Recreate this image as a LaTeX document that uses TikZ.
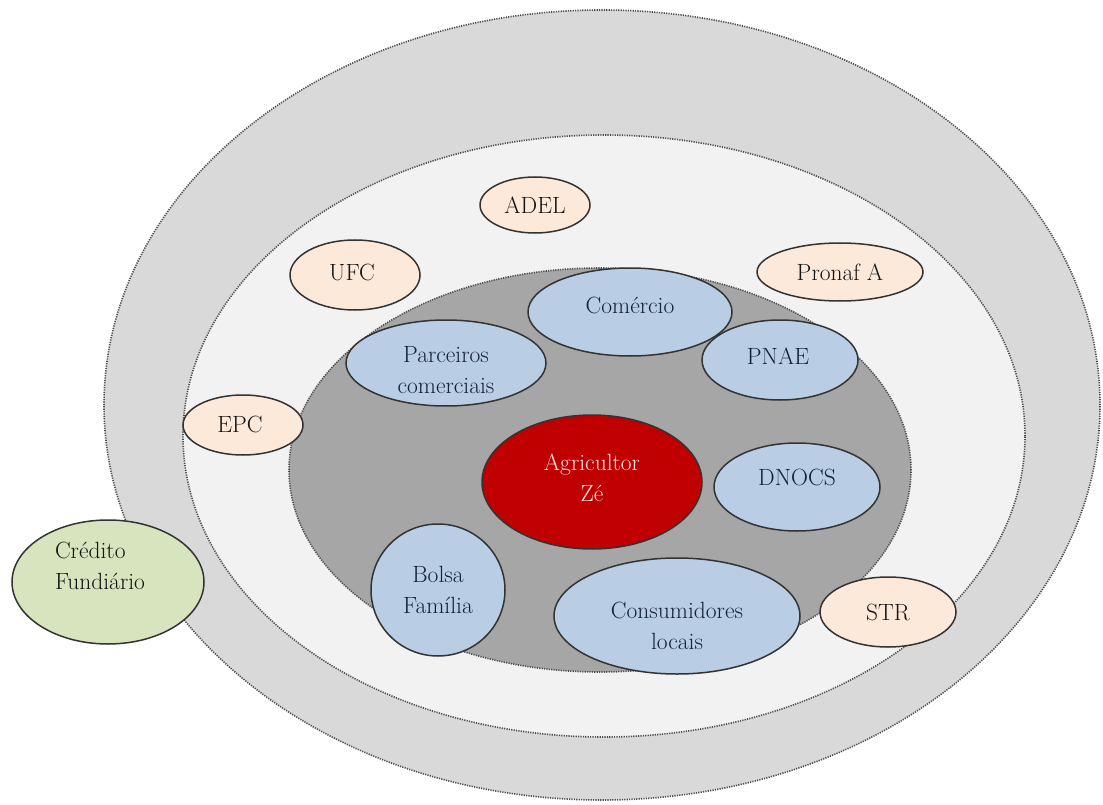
\documentclass[tikz,border=0pt]{standalone}
\usetikzlibrary{shapes.geometric}
\definecolor{ringout}{HTML}{D9D9D9}
\definecolor{ringmid}{HTML}{F2F2F2}
\definecolor{ringin}{HTML}{A6A6A6}
\definecolor{bluefill}{HTML}{B9CDE5}
\definecolor{peachfill}{HTML}{FDE9D9}
\definecolor{greenfill}{HTML}{D7E4BD}
\definecolor{redfill}{HTML}{C00000}
\definecolor{edgecol}{HTML}{333333}
\definecolor{txtcol}{HTML}{141414}
\definecolor{bluetxt}{HTML}{14213A}
\begin{document}
\begin{tikzpicture}[x=1pt,y=-1pt,
  ring/.style={ellipse,draw=black!70,line width=1.6pt,dash pattern=on 1.2pt off 1.2pt,inner sep=0pt},
  bub/.style={ellipse,draw=edgecol,line width=1.5pt,inner sep=0pt},
  bluebub/.style={bub,fill=bluefill},
  peachbub/.style={bub,fill=peachfill},
  greenbub/.style={bub,fill=greenfill},
  redbub/.style={bub,fill=redfill},
  txt/.style={text=txtcol,align=center,font=\rmfamily\fontsize{23.5}{31}\selectfont,inner sep=0pt},
  btxt/.style={txt,text=bluetxt},
  wtxt/.style={txt,text=white!90!red}
]
\useasboundingbox (0,0) rectangle (1103,805);
% rings
\node[ring,fill=ringout,minimum width=996pt,minimum height=790pt] (outer) at (602,405) {};
\node[ring,fill=ringmid,minimum width=842pt,minimum height=602pt] (middle) at (604,436) {};
\node[ring,fill=ringin,minimum width=622pt,minimum height=404pt] (inner) at (600,470) {};
% peach bubbles
\node[peachbub,minimum width=110pt,minimum height=56pt] (adel) at (535,205) {};
\node[txt] (adelt) at (adel) {ADEL};
\node[peachbub,minimum width=130pt,minimum height=70pt] (ufc) at (355,275) {};
\node[txt] (ufct) at ([shift={(-3,-3)}]ufc.center) {UFC};
\node[peachbub,minimum width=166pt,minimum height=58pt] (pronaf) at (840,272) {};
\node[txt] (pronaft) at (pronaf) {Pronaf A};
\node[peachbub,minimum width=120pt,minimum height=60pt] (epc) at (243,425) {};
\node[txt] (epct) at ([shift={(-3,-1)}]epc.center) {EPC};
\node[peachbub,minimum width=136pt,minimum height=70pt] (str) at (888,612) {};
\node[txt] (strt) at (str) {STR};
\node[greenbub,minimum width=192pt,minimum height=124pt] (cred) at (108,582) {};
\node[txt,align=left] (credt) at ([shift={(-8,-16)}]cred.center) {Crédito\\Fundiário};
% blue bubbles
\node[bluebub,minimum width=204pt,minimum height=88pt] (com) at (630,312) {};
\node[btxt] (comt) at ([shift={(0,-7)}]com.center) {Comércio};
\node[bluebub,minimum width=200pt,minimum height=86pt] (parc) at (446,363) {};
\node[btxt] (parct) at ([shift={(0,7)}]parc.center) {Parceiros\\comerciais};
\node[bluebub,minimum width=156pt,minimum height=80pt] (pnae) at (780,360) {};
\node[btxt] (pnaet) at ([shift={(-2,-4)}]pnae.center) {PNAE};
\node[bluebub,minimum width=166pt,minimum height=88pt] (dnocs) at (797,487) {};
\node[btxt] (dnocst) at ([shift={(0,-10)}]dnocs.center) {DNOCS};
\node[bluebub,minimum width=134pt,minimum height=132pt] (bolsa) at (438,590) {};
\node[btxt] (bolsat) at (bolsa) {Bolsa\\Família};
\node[bluebub,minimum width=246pt,minimum height=116pt] (cons) at (677,616) {};
\node[btxt] (const) at ([shift={(0,10)}]cons.center) {Consumidores\\locais};
% center
\node[redbub,minimum width=220pt,minimum height=134pt] (agri) at (592,482) {};
\node[wtxt] (agrit) at ([shift={(0,-4)}]agri.center) {Agricultor\\Zé};
\end{tikzpicture}
\end{document}
